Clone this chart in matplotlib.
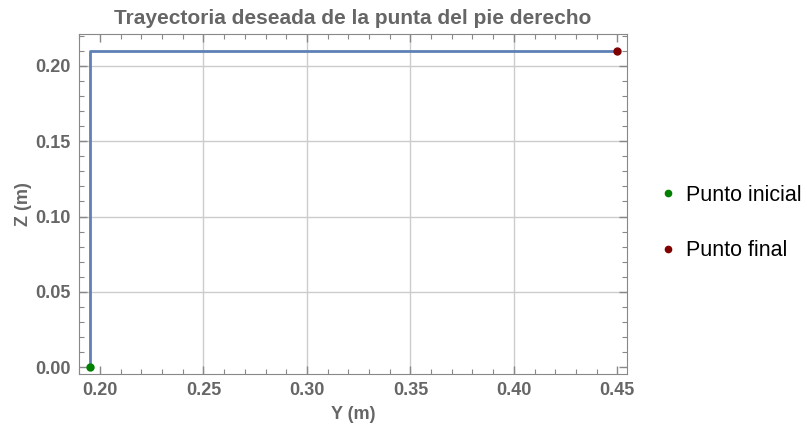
import matplotlib.pyplot as plt
from matplotlib.lines import Line2D
from matplotlib.ticker import MultipleLocator

# trayectoria de la punta del pie (Y, Z)
y_tray = [0.195, 0.195, 0.45]
z_tray = [0.0, 0.21, 0.21]
punto_inicial = (0.195, 0.0)
punto_final = (0.45, 0.21)
etiquetas = ["Punto inicial", "Punto final"]
xticks = [0.20, 0.25, 0.30, 0.35, 0.40, 0.45]
yticks = [0.00, 0.05, 0.10, 0.15, 0.20]
xgrid = [0.25, 0.30, 0.35, 0.40]
ygrid = [0.05, 0.10, 0.15, 0.20]

plt.rcParams['font.family'] = ['Liberation Sans', 'DejaVu Sans']
gris = '#666666'

fig = plt.figure(figsize=(8.07, 4.26), dpi=100)
ax = fig.add_axes([0.098, 0.122, 0.679, 0.798])

for g in xgrid:
    ax.axvline(g, color='#cccccc', lw=1, zorder=0)
for g in ygrid:
    ax.axhline(g, color='#cccccc', lw=1, zorder=0)

ax.plot(y_tray, z_tray, color='#5E81B5', lw=2, zorder=2)
ax.plot(*punto_inicial, 'o', color='#008000', ms=5, zorder=3, clip_on=False)
ax.plot(*punto_final, 'o', color='#800000', ms=5, zorder=3, clip_on=False)

ax.set_xlim(0.1899, 0.4547)
ax.set_ylim(-0.0044, 0.221)
ax.set_xticks(xticks)
ax.set_yticks(yticks)
ax.xaxis.set_major_formatter(plt.FuncFormatter(lambda v, p: "%.2f" % v))
ax.yaxis.set_major_formatter(plt.FuncFormatter(lambda v, p: "%.2f" % v))
ax.xaxis.set_minor_locator(MultipleLocator(0.01))
ax.yaxis.set_minor_locator(MultipleLocator(0.01))
ax.tick_params(which='both', direction='in', top=True, right=True, color='#888888')
ax.tick_params(which='major', length=6, width=1, labelsize=13, labelcolor=gris, pad=6)
ax.tick_params(which='minor', length=3.5, width=0.8)
for lab in ax.get_xticklabels() + ax.get_yticklabels():
    lab.set_fontweight('bold')
for s in ax.spines.values():
    s.set_color('#888888')

ax.set_title("Trayectoria deseada de la punta del pie derecho", fontsize=15,
             fontweight='bold', color=gris, pad=7)
ax.set_xlabel("Y (m)", fontsize=13, fontweight='bold', color=gris, labelpad=5)
ax.set_ylabel("Z (m)", fontsize=13, fontweight='bold', color=gris, labelpad=2)

handles = [Line2D([], [], ls='', marker='o', color='#008000', ms=4.5),
           Line2D([], [], ls='', marker='o', color='#800000', ms=4.5)]
fig.legend(handles, etiquetas, loc='center left', bbox_to_anchor=(0.79, 0.476),
           frameon=False, fontsize=15.5, handletextpad=0.35, labelspacing=1.6,
           handlelength=1.0)

fig.savefig('out.png', dpi=100)
